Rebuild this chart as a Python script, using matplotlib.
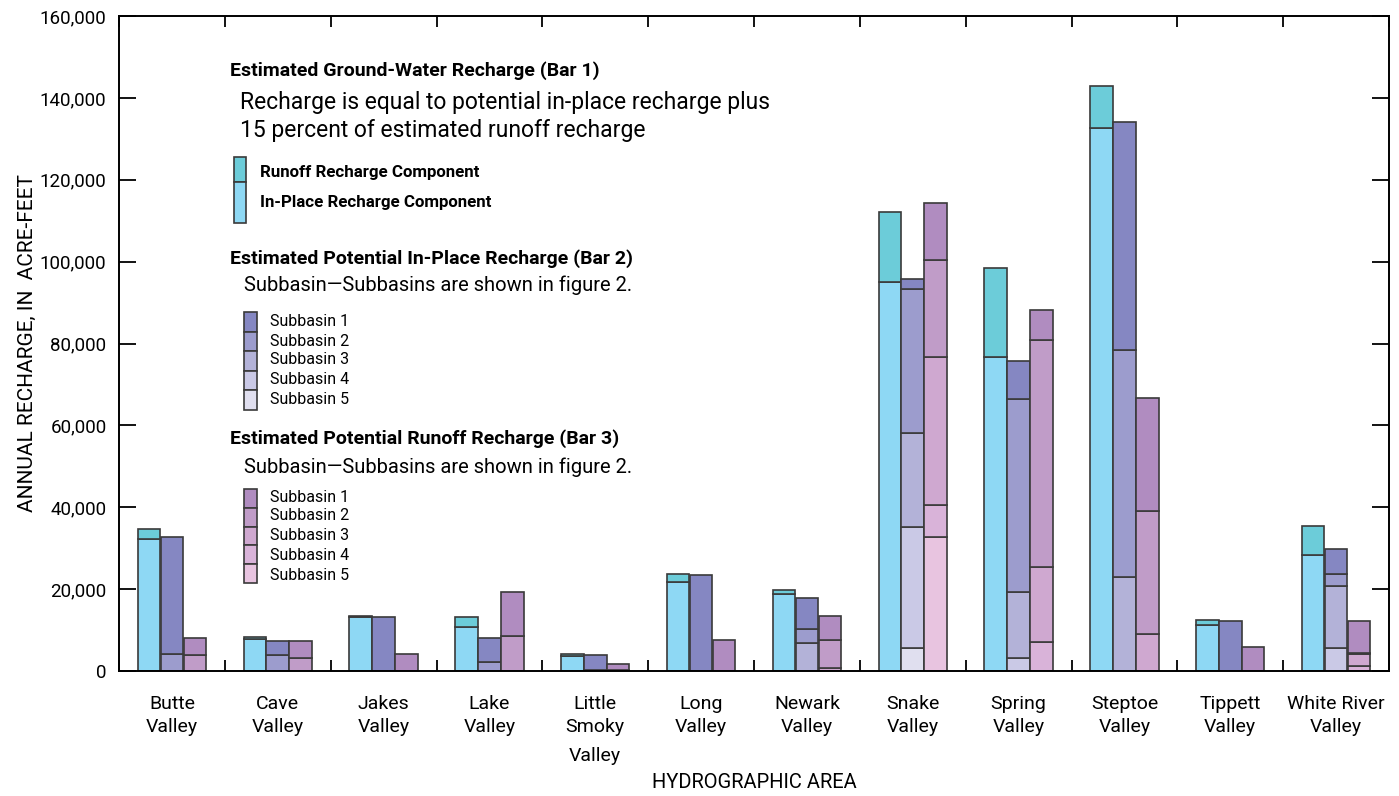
import matplotlib.pyplot as plt
from matplotlib.patches import Rectangle

# valleys (hydrographic areas)
valleys = ["Butte\nValley", "Cave\nValley", "Jakes\nValley", "Lake\nValley",
           "Little\nSmoky\nValley", "Long\nValley", "Newark\nValley", "Snake\nValley",
           "Spring\nValley", "Steptoe\nValley", "Tippett\nValley", "White River\nValley"]

# Bar 1 - estimated ground-water recharge (acre-feet)
inplace_comp = [32300, 7700, 13100, 10750, 3750, 21700, 18700, 95000, 76800, 132700, 11300, 28400]
runoff_comp = [2400, 700, 400, 2350, 480, 1900, 1200, 17100, 21600, 10200, 1160, 7000]

# Bar 2 - potential in-place recharge by subbasin (top = subbasin 1)
inplace_s1 = [28550, 3300, 13100, 5900, 3600, 23400, 7600, 2600, 9300, 55700, 12200, 6000]
inplace_s2 = [4150, 4000, 0, 2100, 300, 0, 3360, 35000, 47300, 55300, 0, 2900]
inplace_s3 = [0, 0, 0, 0, 0, 0, 6840, 23100, 16100, 23000, 0, 15100]
inplace_s4 = [0, 0, 0, 0, 0, 0, 0, 29600, 3100, 0, 0, 5700]
inplace_s5 = [0, 0, 0, 0, 0, 0, 0, 5500, 0, 0, 0, 0]

# Bar 3 - potential runoff recharge by subbasin
runoff_s1 = [4000, 4150, 4070, 10600, 1500, 7650, 5900, 14000, 7400, 27600, 5950, 7800]
runoff_s2 = [4000, 3100, 0, 8600, 300, 0, 6700, 23700, 55300, 30000, 0, 400]
runoff_s3 = [0, 0, 0, 0, 0, 0, 800, 36100, 18400, 9000, 0, 2900]
runoff_s4 = [0, 0, 0, 0, 0, 0, 0, 7900, 7100, 0, 0, 1200]
runoff_s5 = [0, 0, 0, 0, 0, 0, 0, 32700, 0, 0, 0, 0]

yticks = list(range(0, 160001, 20000))

c_inplace = "#8ED8F4"
c_runoff = "#6CCCD9"
blues = ["#8587C2", "#9C9CCD", "#B3B2D8", "#CAC9E6", "#E0DFEF"]
purples = ["#B08CC0", "#C09CC8", "#CFA8D0", "#D9B3D9", "#E8C4E0"]
edge = "#3a3a3a"

FONT = ["Liberation Sans Narrow", "Roboto", "DejaVu Sans"]
plt.rcParams["font.family"] = FONT

fig = plt.figure(figsize=(13.99, 7.96), dpi=100)
ax = fig.add_axes([119 / 1399, 1 - 671 / 796, 1270 / 1399, 655 / 796])

n = len(valleys)
xc = [i + 0.5 for i in range(n)]
w = 0.213
off = 0.217
bkw = dict(width=w, edgecolor=edge, linewidth=1.2)

# bar 1
x1 = [x - off for x in xc]
ax.bar(x1, inplace_comp, color=c_inplace, **bkw)
ax.bar(x1, runoff_comp, bottom=inplace_comp, color=c_runoff, **bkw)

# bar 2 and bar 3: subbasin 5 at the bottom, subbasin 1 on top
def stack(xs, subs, colors):
    bottom = [0] * n
    for vals, col in zip(subs[::-1], colors[::-1]):
        ax.bar(xs, vals, bottom=bottom, color=col, **bkw)
        bottom = [b + v for b, v in zip(bottom, vals)]

stack(xc, [inplace_s1, inplace_s2, inplace_s3, inplace_s4, inplace_s5], blues)
stack([x + off for x in xc], [runoff_s1, runoff_s2, runoff_s3, runoff_s4, runoff_s5], purples)

ax.set_xlim(0, n)
ax.set_ylim(0, 160000)
ax.set_xticks(range(n + 1))
ax.set_xticklabels([])
ax.tick_params(axis="x", direction="in", length=8, width=1.3, top=True, bottom=True)
ax.set_yticks(yticks)
ax.set_yticklabels([f"{v:,}" for v in yticks], fontsize=13.5)
ax.tick_params(axis="y", direction="in", length=12, width=1.3, left=True, right=True, pad=9)
for s in ax.spines.values():
    s.set_linewidth(1.4)

# category labels, one text per line
line_px = [704, 727, 756]
xt = ax.get_xaxis_transform()
for x, name in zip(xc, valleys):
    for k, part in enumerate(name.split("\n")):
        ax.text(x, (671 - line_px[k]) / 655, part, transform=xt,
                ha="center", va="center", fontsize=14)

ax.text(0.5, (671 - 782) / 655, "HYDROGRAPHIC AREA", transform=ax.transAxes,
        ha="center", va="center", fontsize=14.5)
ax.set_ylabel("ANNUAL RECHARGE, IN  ACRE-FEET", fontsize=15, labelpad=2)

# explanation (in figure pixels)
def ftext(px, py, s, **kw):
    fig.text(px / 1399, 1 - py / 796, s, va="center", ha="left", **kw)

def fbox(px, py, pw, ph, col):
    fig.patches.append(Rectangle((px / 1399, 1 - (py + ph) / 796), pw / 1399, ph / 796,
                                 transform=fig.transFigure, facecolor=col,
                                 edgecolor=edge, linewidth=1.2))

ftext(230, 71, "Estimated Ground-Water Recharge (Bar 1)", fontsize=14, fontweight="bold")
ftext(240, 103, "Recharge is equal to potential in-place recharge plus", fontsize=16.5)
ftext(240, 131, "15 percent of estimated runoff recharge", fontsize=16.5)
fbox(234, 157, 12, 25, c_runoff)
fbox(234, 182, 12, 41, c_inplace)
ftext(260, 173, "Runoff Recharge Component", fontsize=12.2, fontweight="bold")
ftext(260, 202, "In-Place Recharge Component", fontsize=12.2, fontweight="bold")

ftext(230, 259, "Estimated Potential In-Place Recharge (Bar 2)", fontsize=14, fontweight="bold")
ftext(244, 285, "Subbasin\u2014Subbasins are shown in figure 2.", fontsize=14.5)
ys2 = [322, 342, 360, 380, 400]
for k in range(5):
    fbox(244, 312 + k * 19.6, 13, 19.6, blues[k])
    ftext(270, ys2[k], f"Subbasin {k + 1}", fontsize=11.5)

ftext(230, 439, "Estimated Potential Runoff Recharge (Bar 3)", fontsize=14, fontweight="bold")
ftext(244, 467, "Subbasin\u2014Subbasins are shown in figure 2.", fontsize=14.5)
ys3 = [497, 516, 536, 556, 575]
for k in range(5):
    fbox(244, 489 + k * 18.8, 13, 18.8, purples[k])
    ftext(270, ys3[k], f"Subbasin {k + 1}", fontsize=11.5)

fig.savefig("out.png", dpi=100)
